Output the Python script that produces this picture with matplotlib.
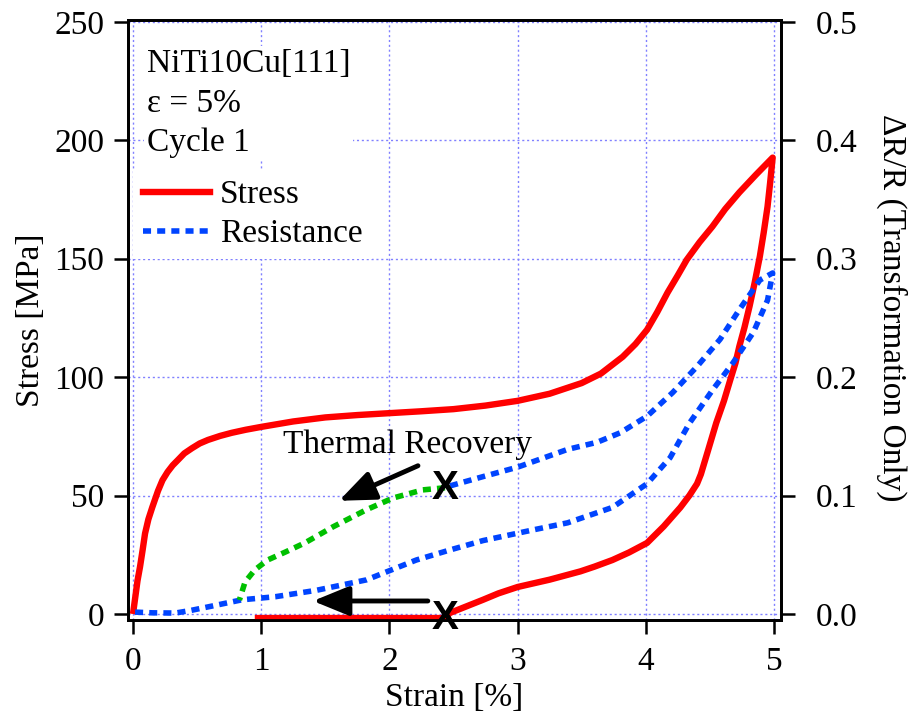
import matplotlib
matplotlib.use("Agg")
import matplotlib.pyplot as plt
from matplotlib.ticker import FormatStrFormatter, MultipleLocator
from matplotlib.lines import Line2D

plt.rcParams['font.family'] = 'serif'
plt.rcParams['font.serif'] = ['Liberation Serif', 'DejaVu Serif']

SERIF = ['Liberation Serif', 'DejaVu Serif']

# ---- Stress (left axis, MPa) ----
load_strain = [0.0, 0.01, 0.02, 0.035, 0.055, 0.075, 0.094, 0.12, 0.15, 0.195, 0.23, 0.27,
               0.31, 0.35, 0.40, 0.46, 0.52, 0.585, 0.68, 0.77, 0.88, 1.0,
               1.25, 1.5, 1.75, 2.0, 2.25, 2.5, 2.75, 3.0, 3.25, 3.5,
               3.65, 3.82, 3.92, 4.01, 4.09, 4.17, 4.25, 4.32, 4.42, 4.52,
               4.62, 4.73, 4.86, 4.99]
load_stress = [0, 4, 8, 14, 20, 27, 34, 40, 45, 52, 56.5, 60,
               62.8, 65, 67.8, 70, 72, 73.5, 75.2, 76.5, 77.8, 79,
               81.3, 83, 84, 84.8, 85.6, 86.5, 88, 90, 93, 97.5,
               101.5, 108.6, 114, 120, 127.5, 135.7, 143, 149.6, 157, 163.6,
               171, 178, 185.5, 192.7]
unload_strain = [4.99, 4.97, 4.95, 4.92, 4.89, 4.85, 4.81, 4.77, 4.73, 4.70, 4.66, 4.61,
                 4.55, 4.48, 4.43, 4.40, 4.34, 4.27, 4.14, 4.01, 3.87, 3.74, 3.6,
                 3.49, 3.25, 3.0, 2.85, 2.73, 2.6, 2.47, 2.44, 0.95]
unload_stress = [192.7, 182, 172, 161, 151, 140, 130, 121, 113, 106, 99, 90,
                 80.7, 68, 59, 55, 50, 45, 37, 30, 26, 22.8, 20,
                 18, 14.5, 11.4, 8.7, 6, 3.2, 0.4, -1.7, -1.7]

# ---- Resistance (right axis, dR/R) ----
res_load_strain = [0.016, 0.15, 0.33, 0.45, 0.585, 0.85, 1.11, 1.43, 1.82, 2.21, 2.47, 2.73,
                   3.12, 3.39, 3.74, 4.01, 4.19, 4.34, 4.52, 4.68, 4.84, 4.95, 4.99]
res_load = [0.0016, 0.001, 0.0008, 0.003, 0.006, 0.012, 0.0146, 0.020, 0.0288, 0.0456, 0.054, 0.062,
            0.071, 0.077, 0.090, 0.110, 0.132, 0.161, 0.189, 0.212, 0.238, 0.265, 0.288]
res_unload_strain = [4.99, 4.89, 4.73, 4.58, 4.40, 4.21, 4.01, 3.80, 3.62, 3.39, 3.0, 2.73, 2.434]
res_unload = [0.293, 0.282, 0.257, 0.232, 0.209, 0.187, 0.167, 0.153, 0.145, 0.139, 0.124, 0.116, 0.107]

# ---- Thermal recovery (green) ----
rec_strain = [2.434, 2.26, 2.03, 1.82, 1.56, 1.34, 1.19, 1.05, 0.95, 0.874, 0.83]
rec_res = [0.1066, 0.1048, 0.098, 0.088, 0.0736, 0.060, 0.0524, 0.0456, 0.0372, 0.027, 0.0118]

# markers / arrows (data coords)
x_mark_strain = 2.434
x_mark_stress = -1.7
x_mark_res = 0.1066

RED = '#ff0000'
BLUE = '#0044ff'
GREEN = '#00c000'
GRID = '#8080ff'
FS = 24
DOT = (0, (1.45, 1.1))
DLW = 4.0

fig = plt.figure(figsize=(9.09, 7.18), dpi=100)
ax = fig.add_axes([128/909, 1-620/718, 653/909, 600/718])
ax2 = ax.twinx()

ax.plot(load_strain + unload_strain[1:], load_stress + unload_stress[1:],
        color=RED, lw=4.6, solid_joinstyle='round', solid_capstyle='butt', zorder=3)

ax2.plot(res_load_strain + res_unload_strain[1:], res_load + res_unload[1:],
         color=BLUE, lw=DLW, linestyle=DOT, zorder=3)
ax2.plot(rec_strain, rec_res, color=GREEN, lw=DLW, linestyle=DOT, zorder=3)

ax.set_xlim(-0.039, 5.055)
ax.set_ylim(-2.53, 250.8)
ax2.set_ylim(-2.53/500, 250.8/500)

ax.xaxis.set_major_locator(MultipleLocator(1))
ax.yaxis.set_major_locator(MultipleLocator(50))
ax2.yaxis.set_major_locator(MultipleLocator(0.1))
ax2.yaxis.set_major_formatter(FormatStrFormatter('%.1f'))

ax.grid(True, color=GRID, linestyle=(0, (1.5, 2)), lw=1.0)
ax.set_axisbelow(True)

for a in (ax, ax2):
    for s in a.spines.values():
        s.set_linewidth(2.0)
ax.tick_params(axis='both', direction='out', length=10, width=1.8, labelsize=FS,
               labelfontfamily='Liberation Serif')
ax.tick_params(axis='x', pad=9)
ax.tick_params(axis='y', pad=7)
ax2.tick_params(axis='y', direction='out', length=10, width=1.8, labelsize=FS, pad=15,
                labelfontfamily='Liberation Serif')

ax.set_xlabel('Strain [%]', fontsize=FS, labelpad=4, family=SERIF)
ax.set_ylabel('Stress [MPa]', fontsize=FS, labelpad=6, family=SERIF)
ax2.set_ylabel('ΔR/R (Transformation Only)', fontsize=FS, rotation=270, labelpad=36, family=SERIF)
ax2.yaxis.label.set_y(0.52)

# text block
ax2.text(0.029, 0.952, 'NiTi10Cu[111]\nε = 5%\nCycle 1', transform=ax2.transAxes,
         fontsize=FS, va='top', ha='left', linespacing=1.38, family=SERIF,
         bbox=dict(facecolor='white', edgecolor='none', pad=2), zorder=5)

handles = [Line2D([], [], color=RED, lw=4.6),
           Line2D([], [], color=BLUE, lw=DLW, linestyle=DOT)]
leg = ax2.legend(handles, ['Stress', 'Resistance'], loc='upper left',
                 bbox_to_anchor=(0.0077, 0.75), frameon=True,
                 prop=dict(family=SERIF, size=FS),
                 facecolor='white', edgecolor='none', framealpha=1.0,
                 handlelength=2.0, handletextpad=0.3, labelspacing=0.25,
                 borderaxespad=0.0, borderpad=0.3, fancybox=False)
leg.set_zorder(5)

# X markers
ax.text(x_mark_strain, x_mark_stress, 'X', fontsize=29, fontweight='bold',
        family='Liberation Sans', ha='center', va='center', zorder=6)
ax2.text(x_mark_strain, x_mark_res, 'X', fontsize=29, fontweight='bold',
         family='Liberation Sans', ha='center', va='center', zorder=6)

# arrows
ax.annotate('', xy=(1.607, 47.8), xytext=(2.223, 62.6),
            arrowprops=dict(arrowstyle='-|>,head_length=1.1,head_width=0.45',
                            mutation_scale=20, lw=3.5, color='black', shrinkA=0, shrinkB=0),
            zorder=6)
ax.annotate('', xy=(1.404, 5.5), xytext=(2.30, 5.5),
            arrowprops=dict(arrowstyle='-|>,head_length=1.1,head_width=0.45',
                            mutation_scale=20, lw=3.5, color='black', shrinkA=0, shrinkB=0),
            zorder=6)
ax.text(2.14, 71.5, 'Thermal Recovery', fontsize=FS, ha='center', va='center',
        family=SERIF, zorder=6)

fig.savefig('out.png', dpi=100)
